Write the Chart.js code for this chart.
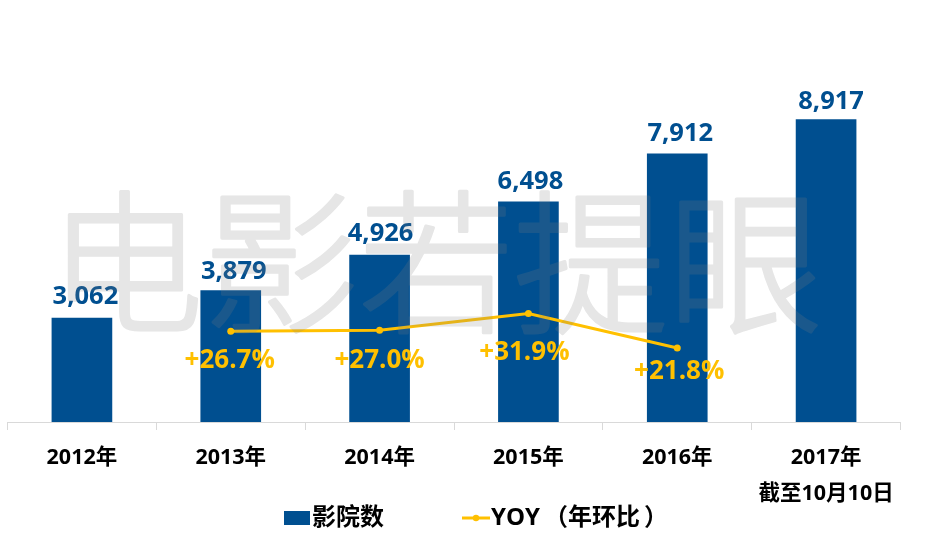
<!DOCTYPE html>
<html><head><meta charset="utf-8">
<style>html,body{margin:0;padding:0;background:#fff}#w{width:935px;height:553px}</style>
<script src="https://cdn.jsdelivr.net/npm/chart.js@4"></script></head>
<body><div id="w"><canvas id="c"></canvas></div>
<script>
const categories = [['2012年'],['2013年'],['2014年'],['2015年'],['2016年'],['2017年','截至10月10日']];
const cinemas = [3062,3879,4926,6498,7912,8917];
const yoy = [null,26.7,27.0,31.9,21.8,null];
const watermark = '电影若提眼';
const BLUE='#004F90', GOLD='#FFC000';
const FONT='"Open Sans","Noto Sans CJK SC",sans-serif';
const blueOff=[[3.5,-21],[3,-19],[1,-21],[2,-20],[3,-20],[5,-18]];
const goldOff=[null,[-1,29],[0,30],[-4,39],[2,24],null];
const LEGEND_DX=27, LEGEND_DY=-13;

function swatch(w,h,draw){const c=document.createElement('canvas');c.width=w;c.height=h;draw(c.getContext('2d'));return c;}
const legendRect=swatch(26,14,g=>{g.fillStyle=BLUE;g.fillRect(0,0,26,14);});
const legendLine=swatch(28,10,g=>{g.strokeStyle=GOLD;g.fillStyle=GOLD;g.lineWidth=3;
 g.beginPath();g.moveTo(0,5);g.lineTo(28,5);g.stroke();g.beginPath();g.arc(14,5,3.2,0,7);g.fill();});

const overlay={id:'overlay',
 afterLayout(ch){const l=ch.legend;l.left+=LEGEND_DX;l.right+=LEGEND_DX;l.top+=LEGEND_DY;l.bottom+=LEGEND_DY;},
 afterDatasetsDraw(ch){
  const g=ch.ctx;g.save();g.textAlign='center';g.textBaseline='middle';
  g.font='bold 25.5px '+FONT;g.fillStyle=BLUE;
  ch.getDatasetMeta(1).data.forEach((e,i)=>g.fillText(cinemas[i].toLocaleString('en-US'),e.x+blueOff[i][0],e.y+blueOff[i][1]));
  g.font='bold 26px '+FONT;g.fillStyle=GOLD;
  ch.getDatasetMeta(0).data.forEach((e,i)=>{if(yoy[i]==null)return;
    g.fillText('+'+yoy[i].toFixed(1)+'%',e.x+goldOff[i][0],e.y+goldOff[i][1]);});
  g.restore();
 },
 afterDraw(ch){
  const off=swatch(935,553,o=>{o.textAlign='center';o.textBaseline='middle';
    o.font='300 155px "Noto Sans CJK SC"';o.fillStyle='#808080';o.strokeStyle='#808080';o.lineWidth=3.2;o.lineJoin='round';o.lineCap='round';
    o.fillText(watermark,436,262);o.strokeText(watermark,436,262);});
  const g=ch.ctx;g.save();g.globalAlpha=0.2;g.drawImage(off,0,0);g.restore();
 }};

new Chart(document.getElementById('c'),{
 data:{labels:categories,datasets:[
  {type:'line',label:'YOY\u2009（年环比\u2009）',data:yoy,yAxisID:'y1',borderColor:GOLD,backgroundColor:GOLD,borderWidth:3,pointRadius:3.5,pointBackgroundColor:GOLD,pointBorderWidth:0,tension:0,order:1},
  {type:'bar',label:'影院数',data:cinemas,yAxisID:'y',backgroundColor:BLUE,barThickness:60,order:2}
 ]},
 plugins:[overlay],
 options:{responsive:true,maintainAspectRatio:false,animation:false,devicePixelRatio:1,
  layout:{padding:{left:7.5,right:34.5,top:0,bottom:0}},
  plugins:{tooltip:{enabled:false},
   legend:{position:'bottom',labels:{
     color:'#000',font:{family:FONT,size:24,weight:'bold'},boxWidth:26,boxHeight:14,padding:5,usePointStyle:true,pointStyleWidth:6,
     sort:(a,b)=>b.datasetIndex-a.datasetIndex,
     generateLabels(ch){return ch.data.datasets.map((d,i)=>({
        text:d.type==='bar'?d.label+'\u3000\u3000\u3000\u2002':d.label,
        fillStyle:d.type==='bar'?BLUE:GOLD,strokeStyle:d.type==='bar'?BLUE:GOLD,lineWidth:0,
        pointStyle:d.type==='bar'?legendRect:legendLine,datasetIndex:i,hidden:false}));}
   }}},
  scales:{
   x:{offset:true,grid:{offset:true,drawOnChartArea:false,color:'#d9d9d9',tickLength:8,tickColor:'#d9d9d9'},border:{color:'#d9d9d9',width:1},
      ticks:{color:'#000',padding:10,maxRotation:0,autoSkip:false,font:{family:FONT,size:21.5,weight:'bold',lineHeight:'36px'}},
      afterFit(s){s.height=92;}},
   y:{display:false,min:0,max:12330},
   y1:{display:false,min:0,max:123}
  }}});
</script></body></html>
